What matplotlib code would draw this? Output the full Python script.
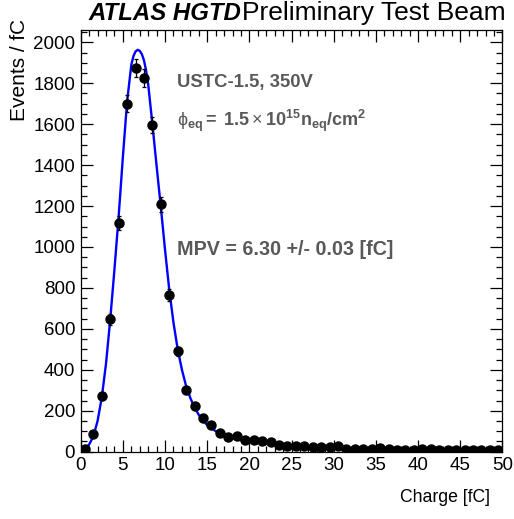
import numpy as np
import matplotlib
matplotlib.use('Agg')
import matplotlib.pyplot as plt
from matplotlib.ticker import MultipleLocator

plt.rcParams['font.family'] = ['Liberation Sans', 'DejaVu Sans']
plt.rcParams['mathtext.fontset'] = 'custom'
plt.rcParams['mathtext.rm'] = 'Liberation Sans'
plt.rcParams['mathtext.bf'] = 'Liberation Sans:bold'
plt.rcParams['mathtext.it'] = 'Liberation Sans:italic'

# данные: центры бинов заряда и число событий
charge = np.arange(0.5, 50, 1.0)
counts = [12, 86, 270, 646, 1117, 1699, 1873, 1826, 1595, 1208,
          766, 491, 301, 223, 165, 131, 90, 70, 78, 55,
          58, 54, 49, 34, 27, 30, 26, 23, 23, 25,
          26, 15, 12, 12, 11, 16, 11, 10, 10, 9,
          12, 11, 10, 8, 9, 6, 8, 10, 7, 8]
counts = np.array(counts, dtype=float)
errors = np.sqrt(counts)

# фит (Landau x Gauss), точки
fit_x = [0, 0.5, 1, 1.5, 2, 2.5, 3, 3.5, 4, 4.5, 5, 5.5, 6, 6.25, 6.5, 6.75,
         7, 7.25, 7.5, 7.75, 8, 8.5, 9, 9.5, 10, 10.5, 11, 11.5, 12, 12.5,
         13, 13.5, 14, 14.5, 15, 16, 17, 18, 19, 20, 22, 24, 26, 28, 30,
         33, 36, 40, 45, 50]
fit_y = [5, 15, 35, 75, 150, 265, 430, 645, 890, 1150, 1440, 1710, 1890, 1932, 1955, 1963,
         1958, 1942, 1912, 1862, 1795, 1600, 1395, 1195, 985, 790, 630, 500, 400, 320,
         262, 215, 180, 152, 130, 100, 80, 66, 56, 48, 38, 31, 25, 21, 18,
         14, 12, 10, 8, 7]

fig = plt.figure(figsize=(5.14, 5.19), dpi=100)
ax = fig.add_axes([0.157, 0.1297, 0.8206, 0.8133])

ax.plot(fit_x, fit_y, color='#0000ff', lw=1.7, zorder=3)
ax.errorbar(charge, counts, yerr=errors, fmt='o', color='black', ms=6.5,
            elinewidth=0.9, capsize=1.5, capthick=0.9, zorder=4)

ax.set_xlim(0, 50)
ax.set_ylim(0, 2062)
ax.xaxis.set_major_locator(MultipleLocator(5))
ax.xaxis.set_minor_locator(MultipleLocator(1))
ax.yaxis.set_major_locator(MultipleLocator(200))
ax.yaxis.set_minor_locator(MultipleLocator(50))
ax.tick_params(which='both', direction='in', top=True, right=True, width=0.9,
               labelsize=13.5, pad=4, colors='black')
ax.tick_params(which='major', length=8.6)
ax.tick_params(which='minor', length=4.3)
for s in ax.spines.values():
    s.set_linewidth(0.9)

fig.text(490 / 514, 1 - 497 / 519, 'Charge [fC]', ha='right', va='center', fontsize=12.7)
fig.text(20 / 514, 1 - 19 / 519, 'Events / fC', rotation=90, ha='center', va='top', fontsize=15)

# заголовок
t1 = fig.text(88 / 514, 1 - 13 / 519, 'ATLAS HGTD', ha='left', va='center',
              fontsize=17.3, fontweight='bold', fontstyle='italic')
fig.canvas.draw()
bb = t1.get_window_extent()
fig.text((bb.x1 + 1) / fig.bbox.width, 1 - 13 / 519, 'Preliminary Test Beam',
         ha='left', va='center', fontsize=19)

grey = '#595959'
ax.text(177 / 514, 1 - 82 / 519, 'USTC-1.5, 350V', transform=fig.transFigure,
        ha='left', va='center', fontsize=13.3, fontweight='bold', color=grey)
ax.text(177 / 514, 1 - 121 / 519,
        r'$\mathrm{\phi}_{\mathbf{eq}}\mathbf{=\ 1.5}\times\mathbf{10^{15}n_{eq}/cm^{2}}$',
        transform=fig.transFigure, ha='left', va='center', fontsize=13, color=grey)
ax.text(177 / 514, 1 - 250 / 519, 'MPV = 6.30 +/- 0.03 [fC]', transform=fig.transFigure,
        ha='left', va='center', fontsize=14.2, fontweight='bold', color=grey)

fig.savefig('out.png', dpi=100)
